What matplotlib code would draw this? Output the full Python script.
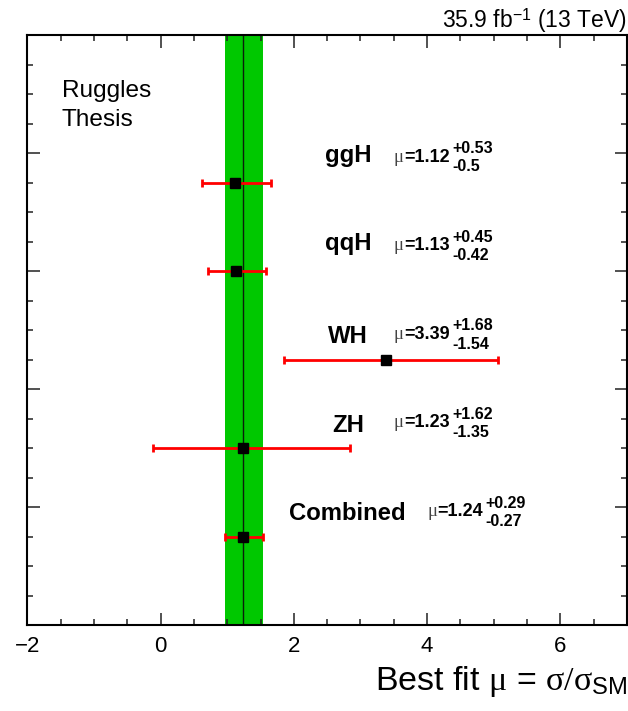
import numpy as np
import matplotlib
matplotlib.use("Agg")
import matplotlib.pyplot as plt
from matplotlib.ticker import MultipleLocator

plt.rcParams["font.family"] = ["Liberation Sans", "DejaVu Sans"]
plt.rcParams["mathtext.fontset"] = "custom"
plt.rcParams["mathtext.rm"] = "Liberation Serif"
plt.rcParams["mathtext.it"] = "Liberation Serif:italic"
plt.rcParams["mathtext.sf"] = "Liberation Sans"
plt.rcParams["mathtext.bf"] = "Liberation Sans:bold"

# Signal-strength fits per production channel
channels = ["ggH", "qqH", "WH", "ZH", "Combined"]
mu_best = [1.12, 1.13, 3.39, 1.23, 1.24]
err_up = [0.53, 0.45, 1.68, 1.62, 0.29]
err_down = [0.5, 0.42, 1.54, 1.35, 0.27]

# combined result drawn as the band
comb_mu = mu_best[-1]
comb_up = err_up[-1]
comb_down = err_down[-1]

x_ticks = [-2, 0, 2, 4, 6]

DPI = 100
fig = plt.figure(figsize=(6.28, 7.11), dpi=DPI)
ax = fig.add_axes([27.3 / 628, 1 - 625.3 / 711, 599.7 / 628, 590.3 / 711])

n = len(channels)
ypos = 0.75 * np.arange(n, 0, -1)

ax.set_xlim(-2, 7)
ax.set_ylim(0, 5)

# combined band and central line
ax.axvspan(comb_mu - comb_down, comb_mu + comb_up, color="#00c800", lw=0, zorder=1)
ax.axvline(comb_mu, color="#0a200a", lw=1.0, zorder=2)

ax.errorbar(mu_best, ypos, xerr=[err_down, err_up], fmt="s", color="black",
            ms=7.2, ecolor="#ff0000", elinewidth=2.0, capsize=2.8, capthick=2.0,
            zorder=4)

# channel names and fitted values
name_x = 2.81
tag_x = [3.5, 3.5, 3.5, 3.5, 4.0]
name_dy = [15.0, 15.0, 11.8, 11.8, 11.8]  # points above the marker
renderer = fig.canvas.get_renderer()
px2pt = 72.0 / DPI

for i, ch in enumerate(channels):
    y = ypos[i]
    ax.annotate(ch, xy=(name_x, y), xytext=(0, name_dy[i]), textcoords="offset points",
                ha="center", va="baseline", fontsize=17.2, fontweight="bold",
                zorder=5)
    dy = 15.0
    t_mu = ax.annotate("μ", xy=(tag_x[i], y), xytext=(0, dy), textcoords="offset points",
                       ha="left", va="baseline", fontsize=13.5,
                       family="Liberation Serif", color="#444444", zorder=5)
    w_mu = t_mu.get_window_extent(renderer).width * px2pt
    t_val = ax.annotate(f"={mu_best[i]:g}", xy=(tag_x[i], y),
                        xytext=(w_mu + 0.3, dy), textcoords="offset points",
                        ha="left", va="baseline", fontsize=13, fontweight="bold",
                        zorder=5)
    w_val = t_val.get_window_extent(renderer).width * px2pt
    xo = w_mu + w_val + 2.0
    ax.annotate(f"+{err_up[i]:g}", xy=(tag_x[i], y), xytext=(xo, dy + 6.0),
                textcoords="offset points", ha="left", va="baseline",
                fontsize=11.5, fontweight="bold", zorder=5)
    ax.annotate(f"-{err_down[i]:g}", xy=(tag_x[i], y), xytext=(xo, dy - 7.0),
                textcoords="offset points", ha="left", va="baseline",
                fontsize=11.5, fontweight="bold", zorder=5)

# axes styling
ax.set_xticks(x_ticks)
ax.set_xticklabels([f"{v:d}".replace("-", "\u2212") for v in x_ticks])
ax.xaxis.set_minor_locator(MultipleLocator(0.5))
ax.yaxis.set_major_locator(MultipleLocator(1.0))
ax.yaxis.set_minor_locator(MultipleLocator(0.25))
ax.tick_params(which="both", direction="in", top=True, right=True,
               labelleft=False, width=1.1, color="#222222")
ax.tick_params(which="major", length=9)
ax.tick_params(which="minor", length=4.3)
ax.tick_params(axis="x", labelsize=16, pad=8)
for s in ax.spines.values():
    s.set_linewidth(1.5)

ax.set_xlabel(r"Best fit $\mathrm{\mu}$ = $\mathrm{\sigma/\sigma}_{\mathsf{SM}}$",
              loc="right", fontsize=24.5, labelpad=5)

fig.text(61.7 / 628, 1 - 97 / 711, "Ruggles", fontsize=17.6, va="baseline", ha="left")
fig.text(61.7 / 628, 1 - 126 / 711, "Thesis", fontsize=17.6, va="baseline", ha="left")
fig.text(627 / 628, 1 - 28 / 711, r"35.9 fb$^{\mathsf{-1}}$ (13 TeV)",
         fontsize=16.5, va="baseline", ha="right")

fig.savefig("out.png", dpi=DPI, facecolor="white")
